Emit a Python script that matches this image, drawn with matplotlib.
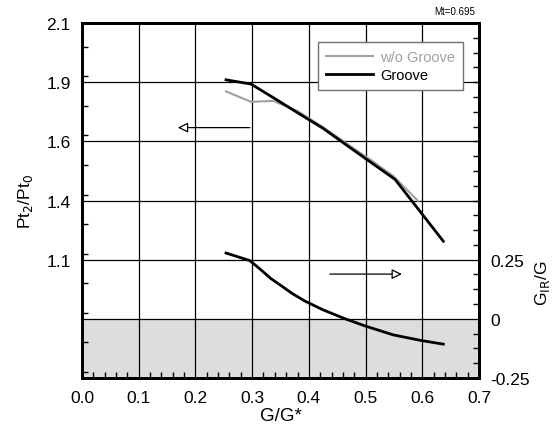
import numpy as np
import matplotlib
matplotlib.use("Agg")
import matplotlib.pyplot as plt
from matplotlib.ticker import MultipleLocator

plt.rcParams['font.family'] = ['Liberation Sans', 'DejaVu Sans']

# data
groove_x = [0.254, 0.298, 0.337, 0.38, 0.425, 0.47, 0.51, 0.552, 0.637]
groove_y = [1.860, 1.842, 1.785, 1.721, 1.655, 1.578, 1.510, 1.439, 1.178]

nogroove_x = [0.254, 0.298, 0.337, 0.38, 0.425, 0.47, 0.51, 0.549, 0.593]
nogroove_y = [1.811, 1.767, 1.771, 1.728, 1.660, 1.585, 1.520, 1.453, 1.347]

gir_x = [0.254, 0.296, 0.315, 0.332, 0.35, 0.37, 0.393, 0.425, 0.464, 0.499, 0.549, 0.599, 0.637]
gir_y = [0.278, 0.246, 0.208, 0.172, 0.142, 0.108, 0.075, 0.038, 0.0, -0.030, -0.068, -0.092, -0.107]

x_ticks = [0.0, 0.1, 0.2, 0.3, 0.4, 0.5, 0.6, 0.7]
left_ticks = [2.1, 1.85, 1.6, 1.35, 1.1, 0.85]
left_labels = ['2.1', '1.9', '1.6', '1.4', '1.1', '']
right_ticks = [0.25, 0.0, -0.25]
right_labels = ['0.25', '0', '-0.25']

fig = plt.figure(figsize=(5.6, 4.39), dpi=100)
ax = fig.add_axes([0.1464, 0.1367, 0.709, 0.8086])
ax2 = ax.twinx()
# right axis goes behind so the shading sits under the grid
ax.set_zorder(ax2.get_zorder() + 1)
ax.patch.set_visible(False)

ax2.axhspan(-0.25, 0.0, color='#dcdddc', lw=0, zorder=0)
ax2.plot(gir_x, gir_y, color='black', lw=2)
ax2.set_ylim(-0.25, 1.25)
ax2.set_yticks(right_ticks)
ax2.set_yticklabels(right_labels)
ax2.yaxis.set_minor_locator(MultipleLocator(0.0625))
ax2.tick_params(axis='y', which='both', direction='in', labelsize=12.5, pad=8)
ax2.tick_params(axis='y', which='major', length=0)
ax2.tick_params(axis='y', which='minor', length=4, width=1)
ax2.set_ylabel('G$_{\\rm IR}$/G', fontsize=12.5)
ax2.yaxis.set_label_coords(1.135, 0.27)

ax.plot(nogroove_x, nogroove_y, color='#a0a0a0', lw=1.5, label='w/o Groove', zorder=3)
ax.plot(groove_x, groove_y, color='black', lw=2, label='Groove', zorder=4)

ax.set_xlim(0, 0.7)
ax.set_ylim(0.6, 2.1)
ax.set_xticks(x_ticks)
ax.set_xticklabels(['%.1f' % v for v in x_ticks])
ax.set_yticks(left_ticks)
ax.set_yticklabels(left_labels)
ax.xaxis.set_minor_locator(MultipleLocator(0.02))
ax.yaxis.set_minor_locator(MultipleLocator(0.125))
ax.tick_params(axis='both', which='both', direction='in', labelsize=12.5, pad=8)
ax.tick_params(axis='x', which='major', pad=9)
ax.tick_params(axis='both', which='major', length=0)
ax.tick_params(axis='both', which='minor', length=4, width=1)
ax.grid(True, which='major', color='black', lw=0.9)
ax.set_axisbelow(True)

for a in (ax, ax2):
    for s in a.spines.values():
        s.set_linewidth(2)

ax.set_xlabel('G/G*', fontsize=13.5, labelpad=1)
ax.set_ylabel('Pt$_2$/Pt$_0$', fontsize=12.5, labelpad=8)

# direction arrows
ax.annotate('', xy=(0.169, 1.658), xytext=(0.296, 1.658),
            arrowprops=dict(arrowstyle='-|>', fc='white', ec='black', lw=0.9,
                            mutation_scale=15, shrinkA=0, shrinkB=0))
ax2.annotate('', xy=(0.564, 0.189), xytext=(0.437, 0.189),
             arrowprops=dict(arrowstyle='-|>', fc='white', ec='black', lw=0.9,
                             mutation_scale=15, shrinkA=0, shrinkB=0))

leg = ax.legend(loc='upper right', bbox_to_anchor=(0.978, 0.966), fontsize=10.5,
                frameon=True, fancybox=False, framealpha=1, edgecolor='#707070',
                handlelength=3.2, handletextpad=0.5, borderpad=0.55, labelspacing=0.25)
leg.get_frame().set_linewidth(1)
leg.get_texts()[0].set_color('#a0a0a0')

fig.text(0.848, 0.962, 'Mt=0.695', fontsize=7, ha='right', va='bottom')

fig.savefig('out.png', dpi=100)
